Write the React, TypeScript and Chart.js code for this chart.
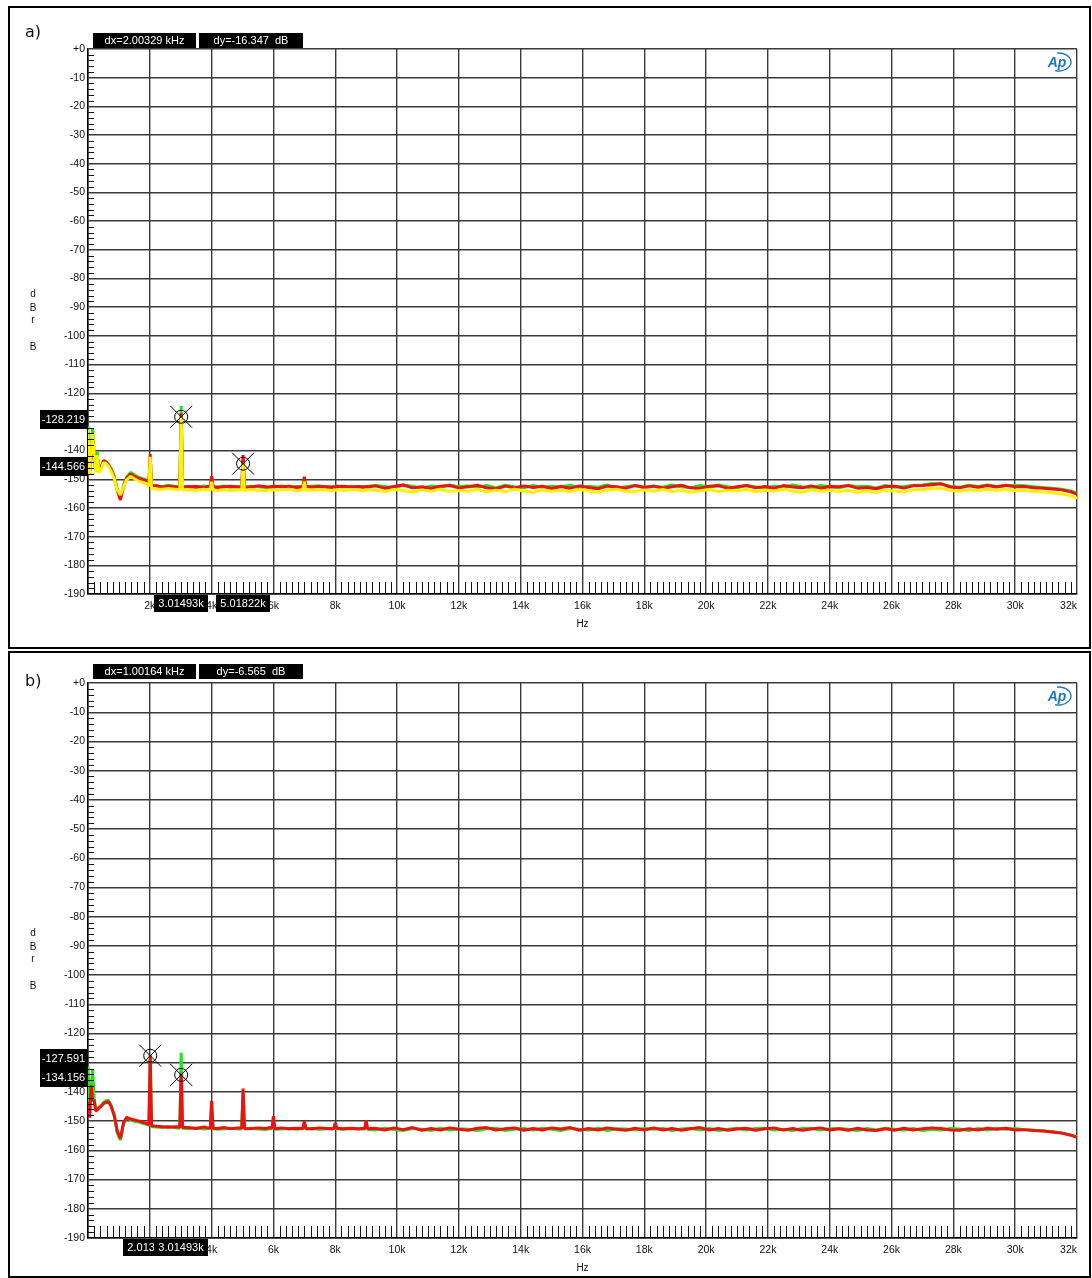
import React, { useEffect, useRef } from "react";
import { Chart, registerables } from "chart.js";

Chart.register(...registerables);

// ---------- shared frequency grid (Hz) ----------
const FREQ_HZ = [
  0, 50, 100, 150, 200, 250, 300, 350, 420, 500, 580, 660, 750, 850, 950, 1050, 1150, 1250, 1375, 1500, 1650, 1800, 1920,
  1970, 2013, 2056, 2200, 2400, 2600, 2850, 2970, 3015, 3060, 3250, 3500, 3750, 3900,
  3955, 4000, 4045, 4200, 4400, 4600, 4850, 4973, 5018, 5063, 5250, 5500, 5750, 5900,
  5955, 6000, 6045, 6250, 6500, 6750, 6900, 6955, 7000, 7045, 7250, 7500, 7750, 7900,
  7955, 8000, 8045, 8250, 8500, 8750, 8900, 8955, 9000, 9045,
  9300, 9600, 9900, 10200, 10500, 10800, 11100, 11400, 11700, 12000,
  12300, 12600, 12900, 13200, 13500, 13800, 14100, 14400, 14700, 15000,
  15300, 15600, 15900, 16200, 16500, 16800, 17100, 17400, 17700, 18000,
  18300, 18600, 18900, 19200, 19500, 19800, 20100, 20400, 20700, 21000,
  21300, 21600, 21900, 22200, 22500, 22800, 23100, 23400, 23700, 24000,
  24300, 24600, 24900, 25200, 25500, 25800, 26100, 26400, 26700, 27000,
  27300, 27600, 27900, 28200, 28500, 28800, 29100, 29400, 29700, 30000,
  30300, 30600, 30900, 31200, 31500, 31800, 32000,
];

// ---------- panel a) series (dBr) ----------
const A_GREEN = [
  -131.5, -147.5, -139, -132.3, -141, -146.5, -140.5, -146.8, -146, -143.6, -143.8, -144.8, -146.3, -149, -153.5, -156.3, -152, -149.3, -147.6, -148.4, -149.4, -149.9, -150.4,
  -151.5, -142, -152, -152.3, -152.6, -152.1, -152.5, -152.6, -124.5, -152.8, -152.4, -152.9, -152.3, -152.6,
  -152.5, -149.5, -152.7, -152.7, -152.3, -152.8, -152.5, -152.6, -143, -152.7, -152.4, -152.6, -152.9, -152.5,
  -152.6, -152.4, -152.7, -152.3, -152.8, -152.5, -152.6, -152.5, -149.6, -152.6, -152.4, -152.3, -152.8, -152.5,
  -152.6, -152.5, -152.3, -152.7, -152.4, -152.6, -152.5, -152.6, -152.7, -152.4,
  -152.2, -152.5, -153.0, -152.0, -152.4, -153.1, -152.3, -152.8, -152.0, -152.6,
  -152.3, -152.8, -152.2, -153.0, -152.1, -152.6, -153.0, -152.2, -152.8, -152.4,
  -152.6, -152.1, -153.0, -152.4, -152.8, -152.0, -153.1, -152.6, -152.2, -152.8,
  -152.3, -152.8, -152.0, -152.6, -153.0, -152.2, -152.8, -152.0, -152.6, -153.0,
  -152.2, -152.6, -153.0, -152.4, -152.8, -152.0, -152.6, -153.0, -152.2, -152.6,
  -153.0, -152.1, -152.6, -152.4, -153.0, -152.2, -152.8, -152.5, -152.1, -152.0,
  -151.5, -151.6, -152.4, -152.8, -152.1, -152.5, -152.0, -152.5, -152.3, -152.1,
  -152.3, -152.6, -152.9, -153.1, -153.5, -154.1, -154.9,
];
const A_RED = [
  -133.5, -148, -141, -136, -143, -147, -142, -147.2, -146.3, -143.5, -143.9, -145, -146.6, -149.3, -154, -157.2, -152.5, -149.6, -148.2, -149, -149.8, -150.2, -150.6,
  -151.3, -141.2, -152.2, -152.2, -152.8, -152.4, -152.7, -152.5, -127, -152.6, -152.6, -152.5, -152.9, -152.4,
  -152.6, -148.9, -152.5, -152.9, -152.6, -152.4, -152.7, -152.6, -141.6, -152.8, -152.7, -152.3, -152.6, -152.8,
  -152.5, -152.7, -152.4, -152.6, -152.4, -152.9, -152.6, -152.4, -149.1, -152.5, -152.7, -152.5, -152.6, -152.9,
  -152.6, -152.8, -152.5, -152.4, -152.7, -152.5, -152.8, -152.6, -152.5, -152.7,
  -152.3, -153.1, -152.5, -152.0, -153.0, -152.6, -153.2, -152.4, -152.2, -153.0,
  -152.6, -152.1, -153.0, -153.3, -152.4, -153.0, -152.3, -152.9, -152.4, -153.2,
  -152.5, -153.1, -152.3, -152.9, -153.3, -152.4, -152.6, -153.1, -152.2, -152.9,
  -152.4, -153.1, -152.6, -152.1, -153.0, -153.2, -152.4, -152.3, -153.1, -152.6,
  -152.2, -153.0, -152.5, -153.1, -152.2, -152.7, -153.0, -152.3, -153.1, -152.5,
  -152.6, -152.2, -153.1, -152.9, -153.3, -152.5, -152.4, -153.1, -152.3, -152.2,
  -151.9, -151.6, -152.7, -153.0, -152.3, -152.8, -152.2, -152.7, -152.1, -152.6,
  -152.5, -153.0, -153.1, -153.4, -153.7, -154.4, -155.2,
];
const A_YELLOW = [
  -132.8, -148.5, -140, -133.9, -142, -147.6, -141.6, -147.6, -146.8, -144.2, -144.4, -145.5, -147.2, -149.8, -153.8, -155.5, -152.6, -150.2, -149, -149.8, -150.8, -151.2, -151.8,
  -152.5, -142.2, -153.2, -153.4, -153.5, -153.2, -153.6, -153.6, -128.2, -153.7, -153.7, -153.9, -153.5, -153.8,
  -153.6, -150.9, -153.8, -154, -153.6, -153.9, -153.7, -153.8, -144.5, -153.9, -153.6, -153.9, -154, -153.7,
  -153.8, -153.6, -153.9, -153.7, -153.5, -154, -153.8, -153.6, -150.8, -153.8, -153.8, -153.6, -153.9, -154,
  -153.7, -153.9, -153.6, -153.9, -153.6, -153.8, -154.1, -153.8, -154, -153.7,
  -153.7, -154.3, -153.6, -153.9, -154.5, -153.7, -154.2, -153.5, -154.3, -153.9,
  -154.2, -153.6, -154.4, -153.8, -154.3, -153.5, -154.1, -154.5, -153.7, -154.2,
  -153.8, -154.4, -153.6, -154.1, -154.5, -153.8, -153.5, -154.2, -154.3, -153.7,
  -154.2, -153.6, -154.3, -153.8, -154.5, -154.0, -153.6, -154.3, -153.8, -154.1,
  -153.6, -154.3, -153.8, -154.1, -153.5, -154.1, -154.5, -153.7, -154.2, -153.8,
  -154.3, -153.8, -154.5, -154.0, -154.6, -153.8, -154.1, -154.4, -153.7, -153.6,
  -153.2, -153.1, -153.9, -154.2, -153.7, -154.0, -153.5, -153.9, -153.5, -153.9,
  -153.9, -154.2, -154.4, -154.7, -155.1, -155.8, -156.6,
];

// ---------- panel b) series (dBr) ----------
const B_GREEN = [
  -131.2, -148.6, -139, -132.3, -142.5, -145.8, -145.5, -145.2, -144.7, -143.6, -143, -142.8, -144.6, -148.5, -154.2, -156.5, -151, -148.9, -149.5, -150, -150.3, -150.8, -151.2,
  -151.5, -128.5, -151.8, -152.0, -152.2, -151.8, -152.3, -152.3, -126.6, -152.4, -152.6, -152.3, -152.7, -152.5,
  -152.5, -144.5, -152.6, -152.8, -152.6, -152.4, -152.7, -152.6, -140.5, -152.7, -152.4, -152.7, -152.9, -152.5,
  -152.6, -149.0, -152.8, -152.7, -152.5, -152.8, -152.6, -152.6, -150.5, -152.7, -152.5, -152.8, -152.6, -152.4,
  -152.4, -150.9, -152.6, -152.8, -152.6, -152.5, -152.7, -152.7, -150.3, -152.8,
  -153.0, -152.4, -152.9, -153.2, -152.5, -152.8, -153.2, -152.4, -153.0, -152.6,
  -152.8, -153.2, -152.5, -152.4, -153.2, -152.8, -152.5, -153.0, -152.4, -152.8,
  -153.2, -152.5, -152.8, -153.0, -152.4, -153.2, -152.6, -152.7, -153.0, -152.5,
  -152.8, -152.5, -153.2, -152.7, -152.4, -153.0, -152.5, -153.2, -152.8, -152.4,
  -153.0, -152.5, -152.4, -153.0, -152.8, -153.2, -152.5, -152.4, -153.0, -152.6,
  -152.5, -152.8, -153.2, -152.5, -153.0, -152.4, -152.8, -153.0, -152.5, -153.2,
  -152.8, -153.0, -152.5, -152.7, -153.2, -152.5, -153.0, -152.4, -152.8, -152.5,
  -152.9, -153.1, -153.3, -153.6, -154.0, -154.7, -155.4,
];
const B_RED = [
  -143.4, -148.8, -137.8, -143, -142.8, -146.5, -146.2, -145.5, -145, -144, -143.6, -143.3, -145, -148, -153.5, -155.9, -150.5, -148.7, -149.2, -149.6, -150, -150.5, -150.9,
  -151.2, -127.4, -151.6, -151.7, -151.9, -152.1, -151.9, -152.1, -133.8, -152.2, -152.2, -152.5, -152.0, -152.4,
  -152.3, -143.0, -152.4, -152.5, -152.2, -152.6, -152.3, -152.4, -138.8, -152.5, -152.6, -152.3, -152.5, -152.2,
  -152.4, -148.3, -152.6, -152.3, -152.6, -152.4, -152.5, -152.4, -149.9, -152.5, -152.6, -152.3, -152.5, -152.7,
  -152.5, -150.6, -152.4, -152.6, -152.4, -152.7, -152.5, -152.5, -149.7, -152.6,
  -152.4, -153.0, -152.3, -152.9, -152.2, -153.1, -152.5, -153.0, -152.3, -152.8,
  -153.1, -152.4, -152.2, -153.0, -152.6, -152.3, -153.1, -152.5, -153.0, -152.3,
  -152.7, -152.2, -153.1, -152.5, -153.0, -152.3, -152.8, -153.1, -152.4, -153.0,
  -152.3, -153.0, -152.5, -153.1, -152.6, -152.2, -153.0, -152.5, -153.1, -152.7,
  -152.4, -153.1, -152.6, -152.3, -153.0, -152.5, -153.1, -152.7, -152.3, -153.0,
  -152.6, -153.1, -152.4, -153.0, -153.2, -152.6, -153.1, -152.4, -153.0, -152.6,
  -152.3, -152.5, -153.0, -153.1, -152.6, -153.0, -152.4, -152.8, -152.4, -153.0,
  -152.9, -153.2, -153.4, -153.7, -154.1, -154.8, -155.5,
];

// ---------- cursors / readouts ----------
const A_CURSOR_HZ = [3014.93, 5018.22];
const A_CURSOR_DB = [-128.219, -144.566];
const A_CURSOR_HZ_LABELS = ["3.01493k", "5.01822k"];
const A_CURSOR_DB_LABELS = ["-128.219", "-144.566"];
const A_DELTAS = ["dx=2.00329 kHz", "dy=-16.347  dB"];

const B_CURSOR_HZ = [2013.29, 3014.93];
const B_CURSOR_DB = [-127.591, -134.156];
const B_CURSOR_HZ_LABELS = ["2.01329k", "3.01493k"];
const B_CURSOR_DB_LABELS = ["-127.591", "-134.156"];
const B_DELTAS = ["dx=1.00164 kHz", "dy=-6.565  dB"];

// ---------- axis settings ----------
const X_MIN = 0;
const X_MAX = 32000;
const X_STEP = 2000;
const X_MINOR = 200;
const Y_MIN = -190;
const Y_MAX = 0;
const Y_STEP = 10;
const Y_MINOR = 2;
const Y_TITLE = ["d", "B", "r", "", "B"];
const X_TITLE = "Hz";

const GREEN = "#22e222";
const RED = "#f01010";
const YELLOW = "#fff200";
const FONT = '"Liberation Sans", Arial, sans-serif';

interface PanelProps {
  top: number;
  height: number;
  plotTop: number;
  plotBottom: number;
  label: string;
  labelBaseline: number;
  frameTop: number;
  frameBottom: number;
  deltaTop: number;
  series: { values: number[]; color: string }[];
  cursorHz: number[];
  cursorDb: number[];
  cursorHzLabels: string[];
  cursorDbLabels: string[];
  deltas: string[];
}

function blackBox(ctx: CanvasRenderingContext2D, x: number, y: number, w: number, h: number, text: string) {
  ctx.fillStyle = "#000";
  ctx.fillRect(x, y, w, h);
  ctx.fillStyle = "#fff";
  ctx.font = `11px ${FONT}`;
  ctx.textAlign = "center";
  ctx.textBaseline = "middle";
  ctx.fillText(text, x + w / 2, y + h / 2 + 0.5);
}

function makeDecor(p: PanelProps) {
  return {
    id: "apDecor",
    beforeDraw(chart: any) {
      const ctx = chart.ctx;
      ctx.save();
      ctx.fillStyle = "#fff";
      ctx.fillRect(0, 0, chart.width, chart.height);
      ctx.restore();
    },
    afterDraw(chart: any) {
      const ctx: CanvasRenderingContext2D = chart.ctx;
      const ca = chart.chartArea;
      const xs = chart.scales.x;
      const ys = chart.scales.y;
      ctx.save();

      // minor ticks
      ctx.strokeStyle = "#111";
      ctx.lineWidth = 1;
      ctx.beginPath();
      for (let v = X_MIN + X_MINOR; v < X_MAX; v += X_MINOR) {
        if (v % X_STEP === 0) continue;
        const px = Math.round(xs.getPixelForValue(v)) + 0.5;
        ctx.moveTo(px, ca.bottom);
        ctx.lineTo(px, ca.bottom - 12);
      }
      for (let d = Y_MIN + Y_MINOR; d < Y_MAX; d += Y_MINOR) {
        if (d % Y_STEP === 0) continue;
        const py = Math.round(ys.getPixelForValue(d)) + 0.5;
        ctx.moveTo(ca.left, py);
        ctx.lineTo(ca.left + 6, py);
      }
      ctx.stroke();

      // panel frame
      ctx.strokeStyle = "#000";
      ctx.lineWidth = 2;
      ctx.strokeRect(9, p.frameTop, 1081, p.frameBottom - p.frameTop);

      // panel label
      ctx.fillStyle = "#111";
      ctx.font = '16px "DejaVu Sans", sans-serif';
      ctx.textAlign = "left";
      ctx.textBaseline = "alphabetic";
      ctx.fillText(p.label, 25, p.labelBaseline);

      // y title (stacked)
      const mid = (ca.top + ca.bottom) / 2;
      const offs = [-27, -13.5, -1, 12, 26];
      ctx.font = `10px ${FONT}`;
      ctx.textAlign = "center";
      ctx.textBaseline = "middle";
      Y_TITLE.forEach((ch, i) => {
        if (ch) ctx.fillText(ch, 33, mid + offs[i]);
      });

      // x title
      ctx.fillText(X_TITLE, (ca.left + ca.right) / 2, ca.bottom + 30);

      // Ap logo
      ctx.fillStyle = "#1b79c0";
      ctx.strokeStyle = "#1b79c0";
      ctx.font = `italic bold 14px ${FONT}`;
      ctx.fillText("Ap", ca.right - 20, ca.top + 14);
      ctx.lineWidth = 1.3;
      ctx.beginPath();
      ctx.ellipse(ca.right - 18, ca.top + 13, 12, 9, 0, -1.75, 1.9);
      ctx.stroke();

      // delta readouts
      blackBox(ctx, 93, p.deltaTop, 103, 15, p.deltas[0]);
      blackBox(ctx, 199, p.deltaTop, 104, 15, p.deltas[1]);

      // cursor markers
      ctx.strokeStyle = "#000";
      ctx.lineWidth = 1;
      p.cursorHz.forEach((hz, i) => {
        const px = xs.getPixelForValue(hz);
        const py = ys.getPixelForValue(p.cursorDb[i]);
        ctx.beginPath();
        ctx.arc(px, py, 6.5, 0, Math.PI * 2);
        ctx.moveTo(px - 11, py - 11);
        ctx.lineTo(px + 11, py + 11);
        ctx.moveTo(px + 11, py - 11);
        ctx.lineTo(px - 11, py + 11);
        ctx.stroke();
      });

      // cursor value boxes on y axis
      p.cursorDb.forEach((db, i) => {
        const py = ys.getPixelForValue(db);
        blackBox(ctx, 40, Math.round(py - 7), 47, 19, p.cursorDbLabels[i]);
      });
      // cursor value boxes on x axis
      p.cursorHz.forEach((hz, i) => {
        const px = xs.getPixelForValue(hz);
        blackBox(ctx, Math.round(px - 27), ca.bottom + 1, 54, 17, p.cursorHzLabels[i]);
      });

      ctx.restore();
    },
  };
}

function Panel(p: PanelProps) {
  const ref = useRef<HTMLCanvasElement | null>(null);
  useEffect(() => {
    if (!ref.current) return;
    const chart = new Chart(ref.current, {
      type: "line",
      data: {
        datasets: p.series.map((s) => ({
          data: FREQ_HZ.map((f, i) => ({ x: f, y: s.values[i] })),
          borderColor: s.color,
          backgroundColor: s.color,
          borderWidth: 3,
          pointRadius: 0,
          tension: 0,
          fill: false,
          borderJoinStyle: "bevel" as const,
        })),
      },
      options: {
        responsive: false,
        animation: false,
        devicePixelRatio: 1,
        layout: { padding: { left: 0, right: 15, top: p.plotTop, bottom: 0 } },
        plugins: { legend: { display: false }, tooltip: { enabled: false } },
        scales: {
          x: {
            type: "linear",
            min: X_MIN,
            max: X_MAX,
            afterFit: (s: any) => {
              s.height = p.height - p.plotBottom;
            },
            ticks: {
              stepSize: X_STEP,
              autoSkip: false,
              maxRotation: 0,
              align: "inner",
              padding: 6,
              color: "#111",
              font: { family: FONT, size: 10.5 },
              callback: (v: any) => (Number(v) === 0 ? "" : Number(v) / 1000 + "k"),
            },
            grid: { color: "#3a3a3a", lineWidth: 1.4, drawTicks: false },
            border: { color: "#000", width: 1.5 },
          },
          y: {
            type: "linear",
            min: Y_MIN,
            max: Y_MAX,
            afterFit: (s: any) => {
              s.width = 88;
            },
            ticks: {
              stepSize: Y_STEP,
              autoSkip: false,
              padding: 3,
              color: "#111",
              font: { family: FONT, size: 10.5 },
              callback: (v: any) => (Number(v) === 0 ? "+0" : String(v)),
            },
            grid: { color: "#3a3a3a", lineWidth: 1.4, drawTicks: false },
            border: { color: "#000", width: 1.5 },
          },
        },
      } as any,
      plugins: [makeDecor(p)],
    });
    return () => chart.destroy();
  }, []);
  return (
    <canvas
      ref={ref}
      width={1092}
      height={p.height}
      style={{ position: "absolute", left: 0, top: p.top, width: 1092, height: p.height }}
    />
  );
}

export default function App() {
  return (
    <div style={{ position: "absolute", left: 0, top: 0, width: 1092, height: 1278, background: "#fff", overflow: "hidden" }}>
      <Panel
        top={0}
        height={650}
        plotTop={49}
        plotBottom={594}
        label="a)"
        labelBaseline={37}
        frameTop={7}
        frameBottom={648}
        deltaTop={33}
        series={[
          { values: A_YELLOW, color: YELLOW },
          { values: A_RED, color: RED },
          { values: A_GREEN, color: GREEN },
        ]}
        cursorHz={A_CURSOR_HZ}
        cursorDb={A_CURSOR_DB}
        cursorHzLabels={A_CURSOR_HZ_LABELS}
        cursorDbLabels={A_CURSOR_DB_LABELS}
        deltas={A_DELTAS}
      />
      <Panel
        top={650}
        height={628}
        plotTop={33}
        plotBottom={588}
        label="b)"
        labelBaseline={36}
        frameTop={2}
        frameBottom={627}
        deltaTop={14}
        series={[
          { values: B_RED, color: RED },
          { values: B_GREEN, color: GREEN },
        ]}
        cursorHz={B_CURSOR_HZ}
        cursorDb={B_CURSOR_DB}
        cursorHzLabels={B_CURSOR_HZ_LABELS}
        cursorDbLabels={B_CURSOR_DB_LABELS}
        deltas={B_DELTAS}
      />
    </div>
  );
}
